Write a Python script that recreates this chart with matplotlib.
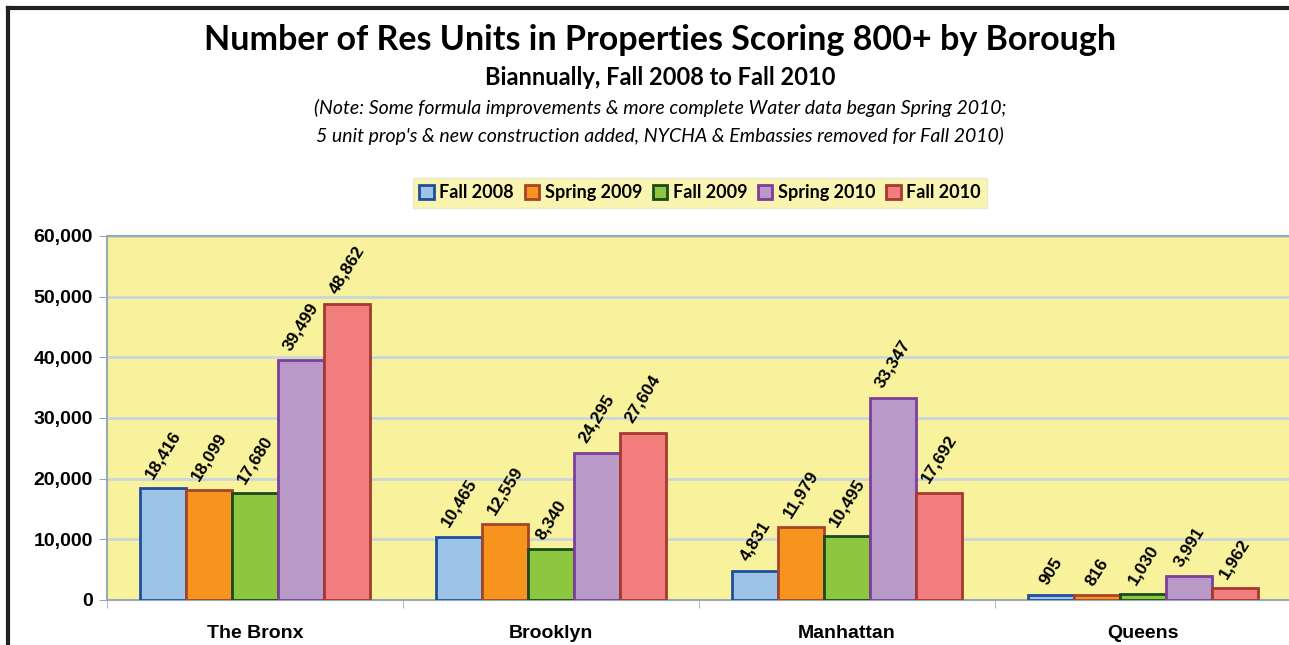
import numpy as np
import matplotlib.pyplot as plt
from matplotlib.lines import Line2D
from matplotlib.patches import Patch

boroughs = ['The Bronx', 'Brooklyn', 'Manhattan', 'Queens']
seasons = ['Fall 2008', 'Spring 2009', 'Fall 2009', 'Spring 2010', 'Fall 2010']
fall_2008 = [18416, 10465, 4831, 905]
spring_2009 = [18099, 12559, 11979, 816]
fall_2009 = [17680, 8340, 10495, 1030]
spring_2010 = [39499, 24295, 33347, 3991]
fall_2010 = [48862, 27604, 17692, 1962]
yticks = [0, 10000, 20000, 30000, 40000, 50000, 60000]

series = [fall_2008, spring_2009, fall_2009, spring_2010, fall_2010]
fills = ['#9dc3e6', '#f7941d', '#8dc63f', '#b899c8', '#f27d7d']
edges = ['#1f4e9c', '#a5452a', '#1b4a1b', '#7d3f98', '#a53a30']

fig = plt.figure(figsize=(12.89, 6.45), dpi=100)
ax = fig.add_axes([107 / 1289, 1 - 600 / 645, 1184 / 1289, 364 / 645])
ax.set_facecolor('#f8f29c')

x = np.arange(len(boroughs))
w = 0.155
for i, vals in enumerate(series):
    pos = x + (i - 2) * w
    ax.bar(pos, vals, w, color=fills[i], edgecolor=edges[i], linewidth=2, zorder=3)
    for px, v in zip(pos, vals):
        ax.annotate(f'{v:,}', (px, v), xytext=(0, 5), textcoords='offset points',
                    rotation=58, ha='center', va='bottom', fontsize=12.5,
                    fontweight='bold', family='Liberation Sans', zorder=4)

ax.set_xlim(-0.5, 3.5)
ax.set_ylim(0, 60000)
ax.set_yticks(yticks)
ax.set_yticklabels([f'{t:,}' for t in yticks], fontsize=14, fontweight='bold',
                   family='Liberation Sans')
ax.grid(axis='y', color='#c9d6dc', linewidth=2, zorder=0)
ax.set_xticks(x)
ax.set_xticklabels(boroughs, fontsize=14, fontweight='bold', family='Liberation Sans')
ax.tick_params(axis='x', length=0, pad=18)
ax.set_xticks(np.arange(-0.5, 4.0, 1.0), minor=True)
ax.tick_params(axis='x', which='minor', length=6, color='#9aaab5')
ax.tick_params(axis='y', length=6, color='#9aaab5', pad=4)
for s in ['left', 'bottom', 'top']:
    ax.spines[s].set_color('#9aaab5')
    ax.spines[s].set_linewidth(1.5)
ax.spines['right'].set_visible(False)

fig.text(0.512, 0.938, 'Number of Res Units in Properties Scoring 800+ by Borough',
         ha='center', va='center', fontsize=24.5, fontweight='bold', family='Lato')
fig.text(0.512, 0.880, 'Biannually, Fall 2008 to Fall 2010',
         ha='center', va='center', fontsize=17, fontweight='bold', family='Lato')
fig.text(0.512, 0.832, '(Note: Some formula improvements & more complete Water data began Spring 2010;',
         ha='center', va='center', fontsize=14, style='italic', family='Lato')
fig.text(0.512, 0.789, "5 unit prop's & new construction added, NYCHA & Embassies removed for Fall 2010)",
         ha='center', va='center', fontsize=14, style='italic', family='Lato')

handles = [Patch(facecolor=fills[i], edgecolor=edges[i], linewidth=2) for i in range(5)]
leg = fig.legend(handles, seasons, loc='center', bbox_to_anchor=(700 / 1289, 1 - 193 / 645),
                 ncol=5, frameon=True, fancybox=False, handlelength=0.8, handleheight=0.8,
                 handletextpad=0.3, columnspacing=0.6, borderpad=0.35,
                 prop={'family': 'Lato', 'weight': 'bold', 'size': 13})
leg.get_frame().set_facecolor('#f8f29c')
leg.get_frame().set_edgecolor('#e6e6c8')

fig.add_artist(Line2D([8 / 1289, 8 / 1289], [0, 1 - 8 / 645], color='#222222', linewidth=3))
fig.add_artist(Line2D([8 / 1289, 1], [1 - 8 / 645, 1 - 8 / 645], color='#222222', linewidth=3))

fig.savefig('out.png', dpi=100)
